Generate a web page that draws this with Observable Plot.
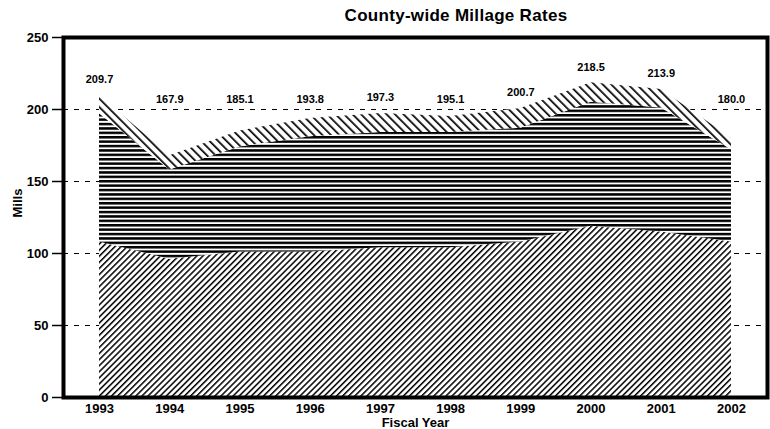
<!DOCTYPE html>
<html>
<head>
<meta charset="utf-8">
<script src="https://cdn.jsdelivr.net/npm/d3@7"></script>
<script src="https://cdn.jsdelivr.net/npm/@observablehq/plot@0.6"></script>
<style>
  html, body { margin: 0; padding: 0; background: #fff; }
  body { width: 770px; height: 429px; overflow: hidden; font-family: "Liberation Sans", Arial, sans-serif; }
  #title { position: relative; height: 26px; }
  #title span { position: absolute; left: 456px; top: 7px; transform: translateX(-50%); white-space: nowrap;
    font-weight: bold; font-size: 17px; line-height: 17px; letter-spacing: 0.3px; color: #000; }
  #chart svg { display: block; }
</style>
</head>
<body>
<div id="title"><span>County-wide Millage Rates</span></div>
<div id="chart"></div>
<script>
// ---- data ----
const years = [1993, 1994, 1995, 1996, 1997, 1998, 1999, 2000, 2001, 2002];
const lowerLayer  = [108, 96, 101, 101, 104, 104, 108, 119, 115, 108];
const middleLayer = [89, 62, 73, 80, 80, 80, 79, 86, 86, 64];
const upperLayer  = [12.7, 9.9, 11.1, 12.8, 13.3, 11.1, 13.7, 13.5, 12.9, 8.0];
const totalLabels = [209.7, 167.9, 185.1, 193.8, 197.3, 195.1, 200.7, 218.5, 213.9, 180.0];
const yTicks = [0, 50, 100, 150, 200, 250];
const gridTicks = [50, 100, 150, 200];

const layerNames = ["lower", "middle", "upper"];
const layerFill = {lower: "url(#hatchLower)", middle: "url(#hatchMiddle)", upper: "url(#hatchUpper)"};

const rows = years.flatMap((year, i) => [
  {year, layer: "lower", value: lowerLayer[i]},
  {year, layer: "middle", value: middleLayer[i]},
  {year, layer: "upper", value: upperLayer[i]}
]);
const labels = years.map((year, i) => ({year, total: totalLabels[i]}));

const chart = Plot.plot({
  width: 770,
  height: 403,
  marginTop: 11,
  marginBottom: 32,
  marginLeft: 63,
  marginRight: 3,
  style: {fontFamily: "'Liberation Sans', Arial, sans-serif", background: "white", color: "black"},
  x: {domain: [1992.487, 2002.513], axis: null},
  y: {domain: [0, 250], axis: null},
  color: {type: "identity"},
  marks: [
    Plot.ruleY(gridTicks, {stroke: "black", strokeWidth: 1, strokeDasharray: "5,6"}),
    Plot.areaY(rows, {x: "year", y: "value", z: "layer", fill: d => layerFill[d.layer], order: layerNames}),
    Plot.text(labels, {
      x: "year",
      y: d => Math.max(d.total, 196) + 11,
      text: d => d.total.toFixed(1),
      fontSize: 11, fontWeight: "bold", fill: "black"
    }),
    Plot.axisY(yTicks, {tickSize: 11, tickPadding: 4, strokeWidth: 1.5, fontSize: 13, fontWeight: "bold", fill: "black", label: null}),
    Plot.axisX(years, {tickSize: 0, tickPadding: 6, tickFormat: "d", fontSize: 13, fontWeight: "bold", fill: "black", label: null}),
    Plot.text(["Fiscal Year"], {frameAnchor: "bottom", dy: 20, lineAnchor: "top", fontSize: 13, fontWeight: "bold", fill: "black"}),
    Plot.text(["Mills"], {frameAnchor: "left", dx: -46, rotate: -90, fontSize: 13, fontWeight: "bold", fill: "black"}),
    Plot.frame({stroke: "black", strokeWidth: 4})
  ]
});

// hatch patterns used as area fills
const svg = d3.select(chart);
const defs = svg.insert("defs", ":first-child");

function linePattern(id, size, lineWidth, angle) {
  const p = defs.append("pattern")
    .attr("id", id)
    .attr("patternUnits", "userSpaceOnUse")
    .attr("width", size).attr("height", size)
    .attr("patternTransform", `rotate(${angle})`);
  p.append("rect").attr("width", size).attr("height", size).attr("fill", "white");
  p.append("rect").attr("width", lineWidth).attr("height", size).attr("fill", "black");
}
linePattern("hatchLower", 4.3, 1.5, 45);
linePattern("hatchUpper", 6.0, 1.7, -45);

const pm = defs.append("pattern")
  .attr("id", "hatchMiddle")
  .attr("patternUnits", "userSpaceOnUse")
  .attr("width", 10).attr("height", 4.4);
pm.append("rect").attr("width", 10).attr("height", 4.4).attr("fill", "white");
pm.append("rect").attr("width", 10).attr("height", 2.5).attr("fill", "black");

document.getElementById("chart").appendChild(chart);
</script>
</body>
</html>
